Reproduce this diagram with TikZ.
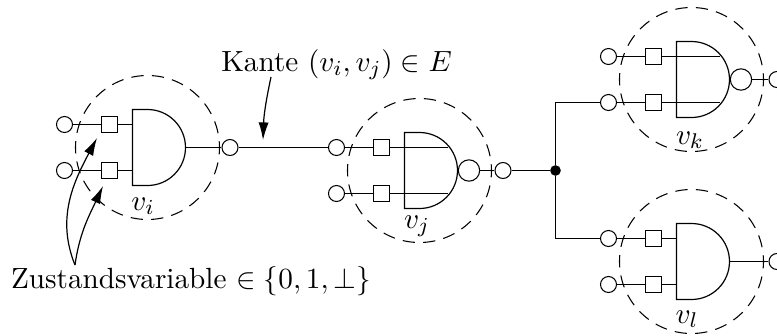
\documentclass[11pt,tikz,border=0pt]{standalone}
\usepackage{amsmath}
\usetikzlibrary{arrows.meta,positioning,calc}
\tikzset{
  port/.style={draw=black, circle, minimum size=6pt, inner sep=0pt},
  negport/.style={draw=black, circle, minimum size=8pt, inner sep=0pt},
  latch/.style={draw=black, rectangle, minimum size=6pt, inner sep=0pt},
  halo/.style={draw=black, circle, minimum size=54pt, inner sep=0pt, dash pattern=on 4.6pt off 3.1pt, dash phase=2.3pt},
  dot/.style={circle, fill=black, minimum size=4pt, inner sep=0pt},
  wire/.style={line width=0.45pt},
  arrow/.style={-{Latex[length=6.6pt,width=3.8pt]}, line width=0.45pt},
  pics/gatebody/.style={code={
    \node[halo] (-halo) at (15,0) {};
    \draw[wire] (0,38) -- (15,38) arc[start angle=90, end angle=-90, radius=38] -- (0,-38) -- cycle;
    \node[latch] (-sa) at (-23,-23) {};
    \node[latch] (-sb) at (-23,23) {};
    \node[port] (-a) at (-68,-23) {};
    \node[port] (-b) at (-68,23) {};
    \draw[wire] (-a) -- (-sa);
    \draw[wire] (-b) -- (-sb);
  }},
}
\begin{document}
\begin{tikzpicture}[x=0.375pt, y=-0.375pt]
\useasboundingbox (0,0) rectangle (777,336);
% left gate
\pic (i) at (132.5,147.5) {gatebody};
\node[port] (iout) at (230,147.5) {};
\draw[wire] (i-sa) -- (132.5,124.5);
\draw[wire] (i-sb) -- (132.5,170.5);
\draw[wire] (185.5,147.5) -- (iout);
\node (vi) at (143,210) [anchor=base] {$v_i$};
% middle gate
\pic (j) at (404.5,170.5) {gatebody};
\node[negport] (jneg) at (469,170.5) {};
\node[port] (jout) at (503,170.5) {};
\draw[wire] (j-sa) -- (448,147.5);
\draw[wire] (j-sb) -- (448,193.5);
\draw[wire] (jneg) -- (jout);
\node (vj) at (417,228) [anchor=base] {$v_j$};
% upper gate
\pic (k) at (676.5,79.5) {gatebody};
\node[negport] (kneg) at (741,79.5) {};
\node[port] (kout) at (777,79.5) {};
\draw[wire] (k-sa) -- (720,56.5);
\draw[wire] (k-sb) -- (720,102.5);
\draw[wire] (kneg) -- (kout);
\node (vk) at (690,144) [anchor=base] {$v_k$};
% lower gate
\pic (l) at (676.5,261.5) {gatebody};
\node[port] (lout) at (777,261.5) {};
\draw[wire] (l-sa) -- (676.5,238.5);
\draw[wire] (l-sb) -- (676.5,284.5);
\draw[wire] (729.5,261.5) -- (lout);
\node (vl) at (687,323) [anchor=base] {$v_l$};
% wires between gates
\node[dot] (fork) at (555.5,170.5) {};
\draw[wire] (iout) -- (j-a);
\draw[wire] (jout) -- (fork);
\draw[wire] (fork) |- (k-b);
\draw[wire] (fork) |- (l-a);
% labels
\node (kante) at (336.5,71) [anchor=base] {Kante $(v_i,v_j)\in E$};
\node (zustand) at (191,288) [anchor=base] {Zustandsvariable $\in\{0,1,\bot\}$};
\coordinate (kantetip) at (263,140);
\coordinate (zustroot) at (75,265);
\coordinate (zusta) at (97,138);
\coordinate (zustb) at (103,186);
\draw[arrow] (271,77) to[out=-102, in=88] (kantetip);
\draw[arrow] (zustroot) to[out=112, in=-118] (zusta);
\draw[arrow] (zustroot) to[out=82, in=-115] (zustb);
\end{tikzpicture}
\end{document}
